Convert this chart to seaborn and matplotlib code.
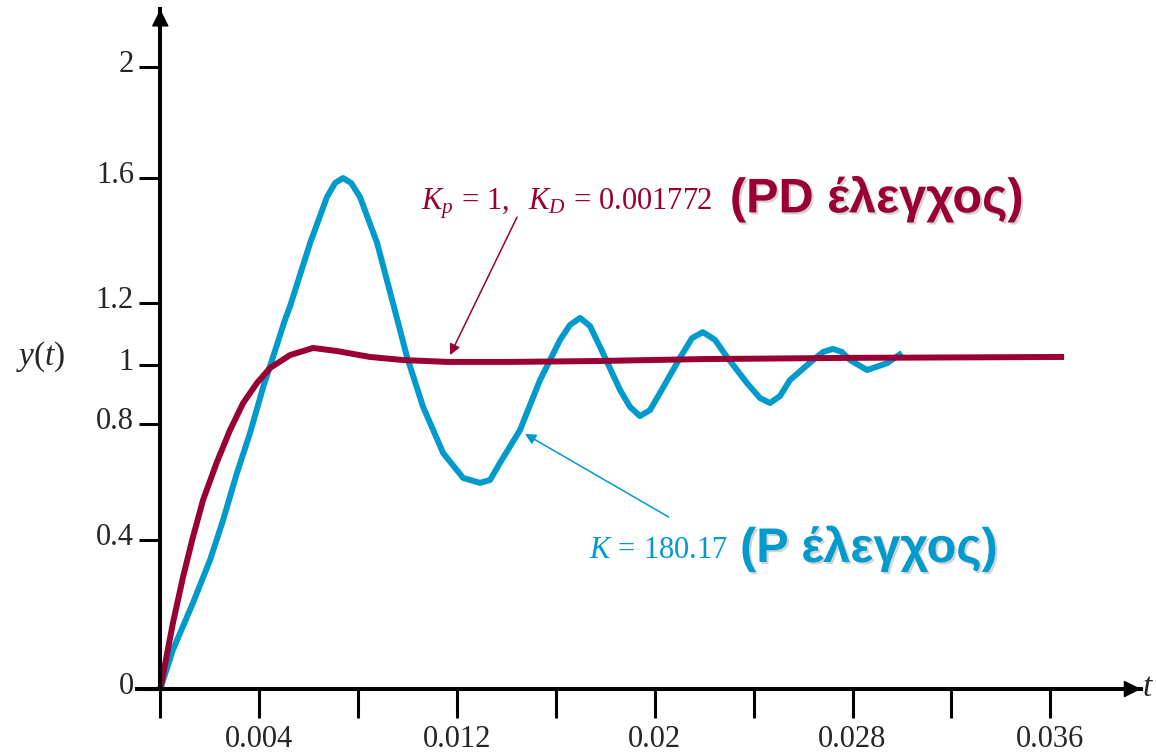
import numpy as np
import pandas as pd
import matplotlib.pyplot as plt
import seaborn as sns
from matplotlib import patheffects as pe
from matplotlib.transforms import ScaledTranslation

# Step responses (time in ms)
t_p = [0, 0.51, 1.32, 2.01, 2.54, 3.10, 3.63, 4.16, 4.56, 5.04,
       5.25, 6.06, 6.74, 7.07, 7.39, 7.72, 8.08, 8.77, 9.41, 9.98,
       10.63, 11.44, 12.25, 12.93, 13.34, 13.74, 14.55, 15.36, 16.17, 16.57,
       16.98, 17.38, 17.79, 18.60, 19.00, 19.40, 19.81, 20.21, 21.02, 21.51,
       21.95, 22.44, 22.92, 23.73, 24.26, 24.66, 25.07, 25.47, 26.40, 26.81,
       27.21, 27.57, 27.90, 28.59, 29.40, 30.00]
y_p = [0, 0.105, 0.231, 0.346, 0.469, 0.631, 0.769, 0.925, 1.026, 1.145,
       1.190, 1.392, 1.539, 1.584, 1.6, 1.584, 1.539, 1.392, 1.2, 1.026,
       0.858, 0.700, 0.614, 0.597, 0.607, 0.666, 0.779, 0.949, 1.081, 1.129,
       1.152, 1.126, 1.058, 0.915, 0.858, 0.827, 0.847, 0.905, 1.023, 1.087,
       1.106, 1.081, 1.026, 0.939, 0.888, 0.871, 0.895, 0.949, 1.016, 1.042,
       1.052, 1.042, 1.016, 0.983, 1.006, 1.039]

t_pd = [0, 0.51, 0.92, 1.32, 1.73, 2.29, 2.82, 3.35, 3.91, 4.44, 5.25,
        6.18, 7.15, 8.48, 9.82, 11.60, 14.15, 17.79, 21.83, 27.89, 36.56]
y_pd = [0, 0.177, 0.301, 0.410, 0.538, 0.669, 0.779, 0.871, 0.939, 0.990, 1.032,
        1.055, 1.045, 1.026, 1.016, 1.010, 1.010, 1.013, 1.019, 1.023, 1.026]

x_major = [0.004, 0.012, 0.02, 0.028, 0.036]
x_major_labels = ["0.004", "0.012", "0.02", "0.028", "0.036"]
x_minor = [0, 0.008, 0.016, 0.024, 0.032]
y_ticks = [0, 0.4, 0.8, 1, 1.2, 1.6, 2]
y_tick_labels = ["0", "0.4", "0.8", "1", "1.2", "1.6", "2"]

RED = "#990033"
BLUE = "#009ACD"

# the original drawing is not to scale vertically -> piecewise scale
scale_vals = [-1, 0, 0.4, 0.8, 1.0, 1.2, 1.6, 2.0, 4.0]
scale_pos = [-372.5, 0, 149, 265, 324, 386, 511, 622, 1177]


def fwd(v):
    return np.interp(v, scale_vals, scale_pos)


def inv(p):
    return np.interp(p, scale_pos, scale_vals)


df = pd.concat([
    pd.DataFrame({"t": np.array(t_p) * 1e-3, "y": y_p, "ctrl": "P"}),
    pd.DataFrame({"t": np.array(t_pd) * 1e-3, "y": y_pd, "ctrl": "PD"}),
])

sns.set_theme(style="white")
plt.rcParams["font.family"] = ["Liberation Serif", "DejaVu Serif"]
plt.rcParams["mathtext.fontset"] = "custom"
plt.rcParams["mathtext.rm"] = "Liberation Serif"
plt.rcParams["mathtext.it"] = "Liberation Serif:italic"

fig = plt.figure(figsize=(11.56, 7.53), dpi=100)
ax = fig.add_axes([137 / 1156, 64 / 753, 1004 / 1156, 679.7 / 753])
ax.set_yscale("function", functions=(fwd, inv))

sns.lineplot(data=df, x="t", y="y", hue="ctrl", hue_order=["P", "PD"],
             palette={"P": BLUE, "PD": RED}, estimator=None, sort=False,
             linewidth=4.3, legend=False, ax=ax)
for line in ax.lines:
    line.set_solid_joinstyle("round")
    line.set_solid_capstyle("butt")

ax.set_xlim(-0.000943, 0.03967)
ax.set_ylim(0, 2.208)
ax.set_xlabel("")
ax.set_ylabel("")

for s in ["top", "right"]:
    ax.spines[s].set_visible(False)
ax.spines["left"].set_position(("data", 0))
for s in ["left", "bottom"]:
    ax.spines[s].set_linewidth(2.9)
    ax.spines[s].set_color("black")

ax.set_xticks(x_major, x_major_labels)
ax.set_xticks(x_minor, minor=True)
ax.set_yticks(y_ticks, y_tick_labels)
ax.yaxis.set_minor_locator(plt.NullLocator())
ax.tick_params(axis="x", which="both", direction="out", length=21, width=2.2,
               pad=5, labelsize=22, color="black", bottom=True)
ax.tick_params(axis="y", direction="out", length=15, width=2.2, pad=4,
               labelsize=22, color="black", left=True)
shift = ScaledTranslation(0, 0.06, fig.dpi_scale_trans)
for lbl in ax.get_yticklabels():
    lbl.set_transform(lbl.get_transform() + shift)

# arrow heads on the axes
arrow_kw = dict(arrowstyle="-|>", color="black", lw=1, mutation_scale=27,
                shrinkA=0, shrinkB=0)
ax.annotate("", xy=(0, 1), xycoords=("data", "axes fraction"),
            xytext=(0, 0.97), textcoords=("data", "axes fraction"),
            arrowprops=arrow_kw)
ax.annotate("", xy=(1, 0), xycoords=("axes fraction", "data"),
            xytext=(0.98, 0), textcoords=("axes fraction", "data"),
            arrowprops=arrow_kw)

fig.text(41 / 1156, 1 - 357 / 753, "$y(t)$", fontsize=24, ha="center", va="center")
fig.text(1142 / 1156, 1 - 688 / 753, "$t$", fontsize=24, ha="left", va="center")

shadow = [pe.withSimplePatchShadow(offset=(1.5, -1.5), shadow_rgbFace="0.5", alpha=0.35)]

# PD annotation
ax.text(0.01054, 1.498, r"$K_p\,=\,1,\ \ K_D\,=\,0.001772$", color=RED,
        fontsize=22, va="baseline", ha="left")
ax.text(0.02304, 1.49, "(PD έλεγχος)", color=RED, fontsize=35,
        fontweight="bold", family="Liberation Sans", va="baseline",
        ha="left", path_effects=shadow)
ax.annotate("", xy=(0.01172, 1.032), xytext=(0.01443, 1.475),
            arrowprops=dict(arrowstyle="-|>", color=RED, lw=1.1,
                            mutation_scale=16, shrinkA=0, shrinkB=0))

# P annotation
ax.text(0.01735, 0.352, r"$K\,=\,180.17$", color=BLUE, fontsize=22,
        va="baseline", ha="left")
ax.text(0.02345, 0.341, "(P έλεγχος)", color=BLUE, fontsize=35,
        fontweight="bold", family="Liberation Sans", va="baseline",
        ha="left", path_effects=shadow)
ax.annotate("", xy=(0.01475, 0.766), xytext=(0.02057, 0.479),
            arrowprops=dict(arrowstyle="-|>", color=BLUE, lw=1.1,
                            mutation_scale=16, shrinkA=0, shrinkB=0))

fig.savefig("out.png", dpi=100)
